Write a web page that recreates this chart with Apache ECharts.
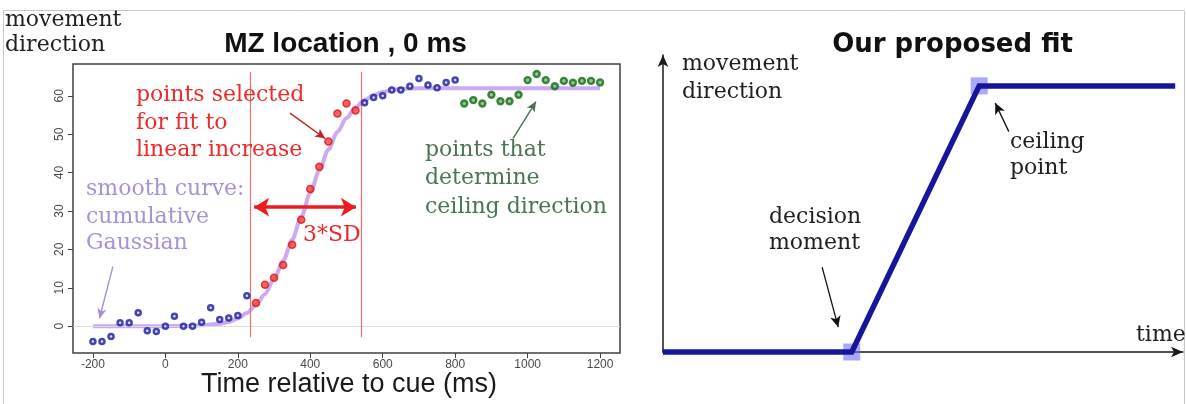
<!DOCTYPE html>
<html>
<head>
<meta charset="utf-8">
<script src="https://cdn.jsdelivr.net/npm/echarts@6/dist/echarts.min.js"></script>
<style>
  html, body { margin: 0; padding: 0; background: #ffffff; }
  #chart { width: 1186px; height: 404px; }
</style>
</head>
<body>
<div id="chart"></div>
<script>
// ---- Left panel: movement direction vs. time relative to cue (ms) ----
const earlyTime = [-200, -175, -150, -125, -100, -75, -50, -25, 0, 25, 50, 75, 100, 125, 150, 175, 200, 225];
const earlyDir  = [-4.0, -4.0, -2.7, 0.9, 0.9, 3.5, -1.2, -1.4, 0.0, 2.6, 0.0, 0.0, 1.0, 4.8, 1.7, 2.1, 2.8, 7.9];

const fitTime = [250, 275, 300, 325, 350, 375, 400, 425, 450, 475, 500, 525];
const fitDir  = [6.0, 10.8, 12.6, 15.9, 21.2, 27.7, 35.7, 41.5, 48.1, 55.4, 58.0, 56.2];

const lateTime = [550, 575, 600, 625, 650, 675, 700, 725, 750, 775, 800];
const lateDir  = [58.2, 59.6, 60.0, 61.5, 61.5, 62.5, 64.5, 62.8, 62.1, 63.5, 64.1];

const ceilTime = [825, 850, 875, 900, 925, 950, 975, 1000, 1025, 1050, 1075, 1100, 1125, 1150, 1175, 1200];
const ceilDir  = [58.0, 58.9, 58.0, 60.3, 58.6, 58.6, 60.3, 64.1, 65.7, 64.1, 62.5, 63.9, 63.4, 63.9, 63.9, 63.5];

// smooth curve (cumulative Gaussian)
const curveTime = [-200, -100, 0, 50, 100, 150, 175, 200, 225, 250, 275, 300, 325, 350, 375, 400, 425, 450, 475, 500, 525, 550, 575, 600, 625, 650, 700, 800, 1000, 1200];
const curveDir  = [0, 0, 0, 0.05, 0.2, 0.6, 1.1, 2.0, 3.4, 5.5, 8.4, 12.3, 17.0, 22.5, 28.5, 34.7, 40.6, 46.0, 50.6, 54.2, 57.0, 58.9, 60.2, 61.0, 61.5, 61.8, 62, 62, 62, 62];

// fit window bounds and the 3*SD span
const windowBounds = [233, 540];
const sdSpan = [245, 526];
const sdLevel = 31;

const xTicks = [-200, 0, 200, 400, 600, 800, 1000, 1200];
const yTicks = [0, 10, 20, 30, 40, 50, 60];

// ---- Right panel: piecewise-linear fit (arbitrary units) ----
const schemeTime = [0, 3.63, 6.08, 9.85];
const schemeDir  = [0, 0, 8.96, 8.96];
const decisionIdx = 1;
const ceilingIdx = 2;

const pairs = (xs, ys) => xs.map((x, i) => [x, ys[i]]);

const SERIF = '"DejaVu Serif", serif';
const SANS = '"Liberation Sans", Arial, sans-serif';

function txt(text, x, y, font, fill, align) {
  return {
    type: 'text', x: x, y: y, silent: true, z: 10,
    style: { text: text, font: font, fill: fill, textAlign: align || 'left', textVerticalAlign: 'middle' }
  };
}

const serif22 = '22px ' + SERIF;
const RED_TXT = '#ec2a2a';
const LAV_TXT = '#a892d2';
const GRN_TXT = '#4b7455';
const INK = '#202020';

const arrowItem = (from, to) => [{ coord: from }, { coord: to }];
const plain = (v) => String(v);

const blueRing = { color: '#d6d9ff', borderColor: '#1a1a9a', borderWidth: 2.5 };

const option = {
  animation: false,
  backgroundColor: '#ffffff',
  grid: [
    { left: 73, top: 64, width: 547, height: 289, show: true, borderColor: '#404040', borderWidth: 1.5, backgroundColor: 'transparent' },
    { left: 663, top: 55, width: 520, height: 297 }
  ],
  xAxis: [
    {
      type: 'value', gridIndex: 0, min: -255, max: 1255, position: 'bottom',
      axisLine: { show: false, onZero: false }, splitLine: { show: false },
      axisTick: { show: true, length: 5, customValues: xTicks, lineStyle: { color: '#444', width: 1 } },
      axisLabel: { customValues: xTicks, formatter: plain, margin: 6, fontSize: 12, color: '#4a4a4a', fontFamily: SANS }
    },
    {
      type: 'value', gridIndex: 1, min: 0, max: 10,
      axisLine: { show: true, onZero: false, symbol: ['none', 'arrow'], symbolSize: [8, 12], lineStyle: { color: '#1a1a1a', width: 1.5 } },
      axisTick: { show: false }, axisLabel: { show: false }, splitLine: { show: false }
    }
  ],
  yAxis: [
    {
      type: 'value', gridIndex: 0, min: -7, max: 68.3, position: 'left',
      axisLine: { show: false, onZero: false }, splitLine: { show: false },
      axisTick: { show: true, length: 5, customValues: yTicks, lineStyle: { color: '#444', width: 1 } },
      axisLabel: { customValues: yTicks, formatter: plain, rotate: 90, margin: 7, fontSize: 12, color: '#4a4a4a', fontFamily: SANS }
    },
    {
      type: 'value', gridIndex: 1, min: 0, max: 10,
      axisLine: { show: true, onZero: false, symbol: ['none', 'arrow'], symbolSize: [8, 12], lineStyle: { color: '#1a1a1a', width: 1.5 } },
      axisTick: { show: false }, axisLabel: { show: false }, splitLine: { show: false }
    }
  ],
  series: [
    {
      name: 'cumulative Gaussian', type: 'line', xAxisIndex: 0, yAxisIndex: 0,
      data: pairs(curveTime, curveDir), smooth: 0.3, smoothMonotone: 'x',
      showSymbol: false, symbol: 'none', z: 2,
      lineStyle: { color: '#cbaaf2', width: 4 },
      markLine: {
        silent: true, symbol: ['none', 'none'], label: { show: false },
        lineStyle: { color: '#dcdcdc', width: 1.2, type: 'solid' },
        data: [{ yAxis: 0 }]
      }
    },
    {
      name: 'early', type: 'scatter', xAxisIndex: 0, yAxisIndex: 0,
      data: pairs(earlyTime, earlyDir), symbol: 'circle', symbolSize: 5, z: 5,
      itemStyle: blueRing,
      markLine: {
        silent: true, symbol: ['none', 'arrow'], symbolSize: [7, 10], label: { show: false },
        lineStyle: { color: '#a68fd4', width: 1.4, type: 'solid' },
        data: [arrowItem([-145, 15.5], [-182, 2.0])]
      }
    },
    {
      name: 'fit window', type: 'scatter', xAxisIndex: 0, yAxisIndex: 0,
      data: pairs(fitTime, fitDir), symbol: 'circle', symbolSize: 7, z: 5,
      itemStyle: { color: '#f23c3c', borderColor: '#e01414', borderWidth: 1.5 },
      markLine: {
        silent: true, symbol: ['none', 'none'], label: { show: false },
        lineStyle: { color: '#f07070', width: 1.2, type: 'solid' },
        data: [
          arrowItem([windowBounds[0], -2.9], [windowBounds[0], 66.3]),
          arrowItem([windowBounds[1], -2.9], [windowBounds[1], 66.3]),
          [
            { coord: [sdSpan[0], sdLevel], symbol: 'arrow', symbolSize: [14, 15], lineStyle: { color: '#ee1c1c', width: 3.5 } },
            { coord: [sdSpan[1], sdLevel], symbol: 'arrow', symbolSize: [14, 15] }
          ],
          [
            { coord: [344, 55.5], lineStyle: { color: '#c42020', width: 1.4 } },
            { coord: [441, 48.9], symbol: 'arrow', symbolSize: [7, 10] }
          ]
        ]
      }
    },
    {
      name: 'late', type: 'scatter', xAxisIndex: 0, yAxisIndex: 0,
      data: pairs(lateTime, lateDir), symbol: 'circle', symbolSize: 5, z: 5,
      itemStyle: blueRing
    },
    {
      name: 'ceiling', type: 'scatter', xAxisIndex: 0, yAxisIndex: 0,
      data: pairs(ceilTime, ceilDir), symbol: 'circle', symbolSize: 6, z: 5,
      itemStyle: { color: '#7fb87f', borderColor: '#136b13', borderWidth: 2.4 },
      markLine: {
        silent: true, symbol: ['none', 'arrow'], symbolSize: [7, 10], label: { show: false },
        lineStyle: { color: '#4d6f55', width: 1.4, type: 'solid' },
        data: [arrowItem([960, 48.9], [1023, 58.5])]
      }
    },
    {
      name: 'key points', type: 'scatter', xAxisIndex: 1, yAxisIndex: 1,
      data: [
        [schemeTime[decisionIdx], schemeDir[decisionIdx]],
        [schemeTime[ceilingIdx], schemeDir[ceilingIdx]]
      ],
      symbol: 'rect', symbolSize: 17, z: 2, clip: false,
      itemStyle: { color: 'rgba(105,105,250,0.72)' }
    },
    {
      name: 'proposed fit', type: 'line', xAxisIndex: 1, yAxisIndex: 1,
      data: pairs(schemeTime, schemeDir), showSymbol: false, symbol: 'none', clip: false, z: 3,
      lineStyle: { color: '#16169c', width: 5.5, join: 'miter' },
      markLine: {
        silent: true, symbol: ['none', 'arrow'], symbolSize: [8, 11], label: { show: false },
        lineStyle: { color: '#111111', width: 1.3, type: 'solid' },
        data: [
          arrowItem([3.06, 2.86], [3.37, 0.84]),
          arrowItem([6.65, 7.42], [6.39, 8.38])
        ]
      }
    }
  ],
  graphic: [
    { type: 'rect', silent: true, z: -1, shape: { x: 3.5, y: 10.5, width: 1181, height: 400 }, style: { fill: 'none', stroke: '#c8c8c8', lineWidth: 1 } },
    // left panel text
    txt('movement', 5, 20, serif22, INK),
    txt('direction', 5, 45, serif22, INK),
    txt('MZ location , 0 ms', 345.5, 44, 'bold 28px ' + SANS, '#111111', 'center'),
    txt('Time relative to cue (ms)', 349, 385, '27px ' + SANS, '#1a1a1a', 'center'),
    txt('points selected', 136, 95, serif22, RED_TXT),
    txt('for fit to', 136, 123, serif22, RED_TXT),
    txt('linear increase', 136, 150, serif22, RED_TXT),
    txt('smooth curve:', 86, 189, serif22, LAV_TXT),
    txt('cumulative', 86, 217, serif22, LAV_TXT),
    txt('Gaussian', 86, 243, serif22, LAV_TXT),
    txt('3*SD', 303, 235, serif22, RED_TXT),
    txt('points that', 425, 150, serif22, GRN_TXT),
    txt('determine', 425, 178, serif22, GRN_TXT),
    txt('ceiling direction', 425, 207, serif22, GRN_TXT),
    // right panel text
    txt('Our proposed fit', 952.5, 45, 'bold 26px "DejaVu Sans", sans-serif', '#111111', 'center'),
    txt('movement', 682, 64, serif22, INK),
    txt('direction', 682, 92, serif22, INK),
    txt('ceiling', 1010, 142, serif22, INK),
    txt('point', 1010, 168, serif22, INK),
    txt('decision', 769, 217, serif22, INK),
    txt('moment', 769, 243, serif22, INK),
    txt('time', 1136, 335, serif22, INK)
  ]
};

const chart = echarts.init(document.getElementById('chart'), null, { renderer: 'canvas' });
chart.setOption(option);
</script>
</body>
</html>
